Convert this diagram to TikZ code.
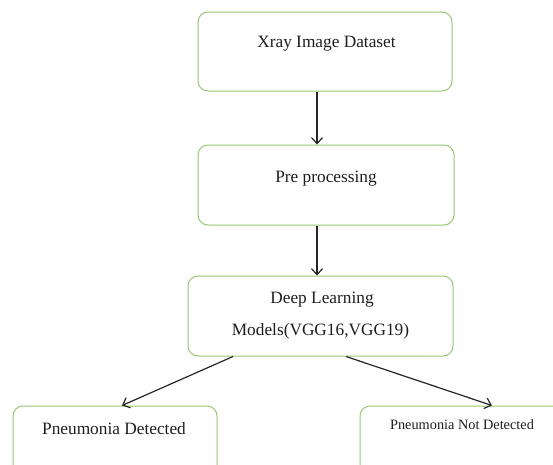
\documentclass[tikz,border=0pt]{standalone}
\usepackage{fontspec}
\setmainfont{Liberation Serif}
\usetikzlibrary{arrows.meta}
\definecolor{boxgreen}{RGB}{150,200,115}
\definecolor{txt}{RGB}{30,30,30}
\begin{document}
\begin{tikzpicture}[x=1pt,y=-1pt,
  box/.style={draw=boxgreen,line width=1pt,rounded corners=10pt,fill=white,inner sep=0pt},
  lbl/.style={anchor=base,inner sep=0pt,text=txt,font=\fontsize{17.3}{20}\selectfont},
  lbls/.style={anchor=base,inner sep=0pt,text=txt,font=\fontsize{14.3}{17}\selectfont},
  arr/.style={draw=black!85,line width=1.2pt,-{Straight Barb[length=6pt,width=11pt]}}]
\clip (0,0) rectangle (553,464);
\fill[white] (0,0) rectangle (553,464);
\node[box,minimum width=254pt,minimum height=79pt] (b1) at (325,51.5) {};
\node[box,minimum width=256pt,minimum height=80pt] (b2) at (326,185) {};
\node[box,minimum width=265pt,minimum height=80pt] (b3) at (320.5,316) {};
\node[box,minimum width=204pt,minimum height=80pt] (b4) at (115,446) {};
\node[box,minimum width=260pt,minimum height=80pt] (b5) at (490,446) {};
\node[lbl] (t1) at (326.5,47) {Xray Image Dataset};
\node[lbl] (t2) at (326,182) {Pre processing};
\node[lbl] (t3a) at (322,303) {Deep Learning};
\node[lbl] (t3b) at (320.5,335) {Models(VGG16,VGG19)};
\node[lbl] (t4) at (114,434) {Pneumonia Detected};
\node[lbls] (t5) at (462,429) {Pneumonia Not Detected};
\coordinate (xv) at (317,0);
\coordinate (s1) at (233,0);
\coordinate (e1) at (122,0);
\coordinate (s2) at (346,0);
\coordinate (e2) at (492,0);
\draw[arr] (b1.south -| xv) -- (b2.north -| xv);
\draw[arr] (b2.south -| xv) -- (b3.north -| xv);
\draw[arr] (b3.south -| s1) -- (b4.north -| e1);
\draw[arr] (b3.south -| s2) -- (b5.north -| e2);
\end{tikzpicture}
\end{document}
